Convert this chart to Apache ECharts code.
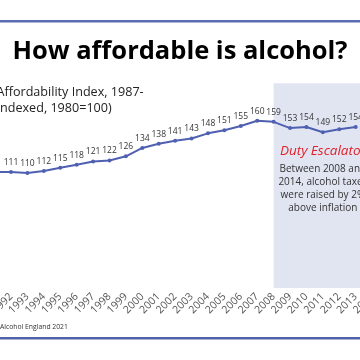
<!DOCTYPE html>
<html><head><meta charset="utf-8">
<script src="https://cdn.jsdelivr.net/npm/echarts@6/dist/echarts.min.js"></script>
<style>html,body{margin:0;padding:0;background:#fff}#c{width:360px;height:360px}</style>
</head><body><div id="c"></div>
<script>
const years = ['1991','1992','1993','1994','1995','1996','1997','1998','1999','2000','2001','2002','2003','2004','2005','2006','2007','2008','2009','2010','2011','2012','2013','2014'];
const affordability = [111,111,110,112,115,118,121,122,126,134,138,141,143,148,151,155,160,159,153,154,149,152,154,null];
const escalatorStart = '2008';
const escalatorEnd = '2014';
const titleText = 'How affordable is alcohol?';
const subtitleLines = ['Affordability Index, 1987-', 'Indexed, 1980=100)'];
const sourceText = 'Alcohol England 2021';
const boxTitle = 'Duty Escalator';
const boxLines = ['Between 2008 and', '2014, alcohol taxes', 'were raised by 2%', 'above inflation'];

const chart = echarts.init(document.getElementById('c'));
const ff = '"Open Sans", sans-serif';
chart.setOption({
  animation: false,
  textStyle: {fontFamily: ff},
  title: {text: titleText, left: 'center', top: 34,
    textStyle: {fontFamily: ff, fontSize: 25.5, fontWeight: 'bold', color: '#000'}},
  graphic: [
    {type: 'rect', left: 0, top: 20, shape: {width: 360, height: 2.5}, style: {fill: '#5a6db2'}},
    {type: 'rect', left: 0, top: 337, shape: {width: 360, height: 2.5}, style: {fill: '#4f62a8'}},
    {type: 'text', left: -3.5, top: 84, style: {text: subtitleLines.join('\n'), font: '12.6px "Open Sans"', fill: '#222', lineHeight: 16}},
    {type: 'text', left: 0, top: 324, style: {text: sourceText, font: '6.8px "Open Sans"', fill: '#333'}}
  ],
  grid: {left: -5.4, right: -12.1, top: 79, height: 209, containLabel: false, outerBoundsMode: 'none'},
  xAxis: {type: 'category', data: years, boundaryGap: false,
    axisLine: {show: false}, axisTick: {show: false},
    axisLabel: {rotate: 45, fontSize: 10.5, color: '#555', margin: 7, interval: 0}},
  yAxis: {type: 'value', min: 0, max: 200, show: false, splitLine: {show: false}},
  series: [{
    type: 'line', data: affordability, connectNulls: false,
    lineStyle: {color: '#5060b0', width: 2},
    itemStyle: {color: '#5060b0'},
    symbol: 'circle', symbolSize: 4, showAllSymbol: true,
    label: {show: true, position: 'top', distance: 3, fontSize: 8.5, fontFamily: '"Open Sans", sans-serif', color: '#333'},
    markArea: {silent: true,
      itemStyle: {color: '#e1e5f2'},
      label: {show: true, position: 'insideTop', distance: 57,
        formatter: '{t|' + boxTitle + '}\n' + boxLines.map(l => '{b|' + l + '}').join('\n'),
        rich: {
          t: {fontFamily: ff, fontSize: 13.5, fontStyle: 'italic', color: '#e3202a', lineHeight: 22, align: 'center'},
          b: {fontFamily: ff, fontSize: 10, color: '#333', lineHeight: 13, align: 'center'}
        }},
      data: [[{xAxis: escalatorStart, yAxis: 0}, {xAxis: escalatorEnd, yAxis: 196}]]
    }
  }]
});
</script></body></html>
